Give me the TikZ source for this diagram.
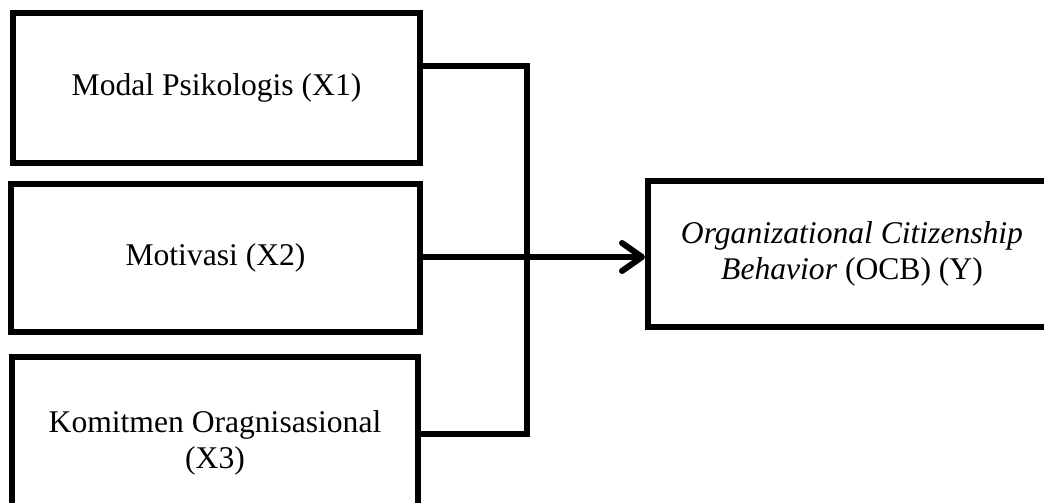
\documentclass[tikz,border=0pt]{standalone}
\usepackage{fontspec}
\setmainfont{Liberation Serif}
\usetikzlibrary{arrows.meta}
\begin{document}
\begin{tikzpicture}[x=1pt,y=-1pt,
  box/.style={draw=black,line width=6pt,inner sep=0pt,align=center,
    font=\fontsize{31.6}{36}\selectfont},
  conn/.style={line width=6pt,line join=miter}]
\clip (0,0) rectangle (1044,503);
\useasboundingbox (0,0) rectangle (1044,503);
\node[box,minimum width=407pt,minimum height=150pt] (b1) at (216.5,88) {Modal Psikologis (X1)};
\node[box,minimum width=409pt,minimum height=148pt] (b2) at (215.5,258) {Motivasi (X2)};
\node[box,minimum width=406pt,minimum height=172pt] (b3) at (215,443) {Komitmen Oragnisasional\\(X3)};
\node[box,minimum width=408pt,minimum height=146pt] (y) at (852,254) {\textit{Organizational Citizenship}\\\textit{Behavior} (OCB) (Y)};
\coordinate (j1) at (527,66);
\coordinate (j3) at (527,434);
\draw[conn] (b1.east |- j1) -- (j1) -- (j3) -- (b3.east |- j3);
\draw[conn,-{Straight Barb[length=20pt,width=28pt,round]}] (b2.east |- 0,257) -- (y.west |- 0,257);
\end{tikzpicture}
\end{document}
